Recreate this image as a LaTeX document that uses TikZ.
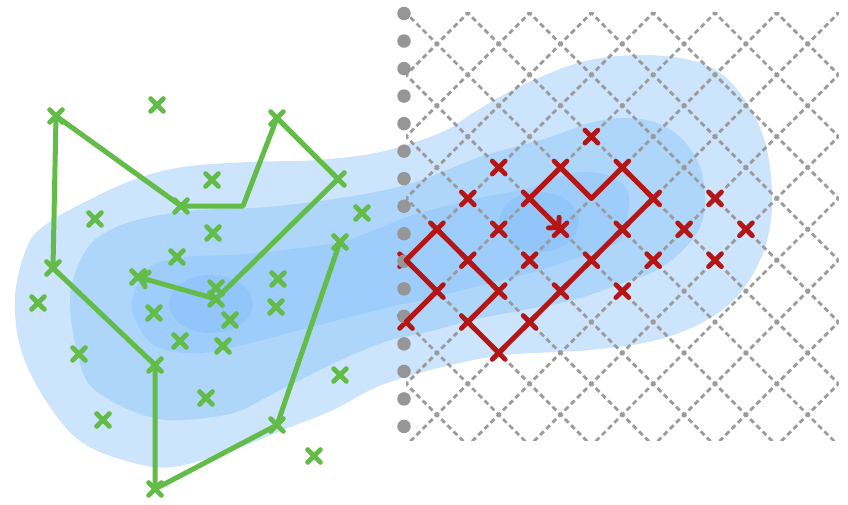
\documentclass[tikz,border=0pt]{standalone}
\usetikzlibrary{arrows.meta,shapes.misc}
\definecolor{bA}{RGB}{204,228,252}
\definecolor{bB}{RGB}{174,214,251}
\definecolor{bC}{RGB}{158,205,251}
\definecolor{bD}{RGB}{146,198,250}
\definecolor{gridc}{RGB}{155,155,155}
\definecolor{dotc}{RGB}{150,150,150}
\definecolor{redc}{RGB}{180,22,22}
\definecolor{greenc}{RGB}{99,187,72}
\tikzset{
  gridline/.style={gridc,line width=2.8pt,dash pattern=on 5.2pt off 3.54pt,dash phase=2.6pt},
  dotnode/.style={circle,fill=dotc,inner sep=0pt,minimum size=13.5pt},
  xnode/.style={cross out,draw,inner sep=0pt,minimum size=8pt,line width=4.8pt,line cap=round},
  rx/.style={xnode,draw=redc},
  gx/.style={xnode,draw=greenc},
  redpath/.style={redc,line width=5pt,line join=round,line cap=round},
  greenpath/.style={greenc,line width=5pt,line join=round,line cap=round},
  tip/.style={-{Straight Barb[length=7pt,width=15pt,round]}}
}
\begin{document}
\begin{tikzpicture}[x=1pt,y=-1pt]
\useasboundingbox (0,0) rectangle (848,505);
% density blobs
\fill[bA] plot[smooth cycle,tension=0.6] coordinates {(15,297) (27,247) (45,225) (83,203) (133,180) (183,167) (250,162) (317,160) (380,152) (440,133) (473,113) (507,93) (550,73) (590,60) (640,55) (690,60) (723,75) (750,108) (767,150) (772,207) (763,253) (740,293) (707,320) (657,340) (590,350) (490,357) (390,382) (333,410) (283,430) (233,450) (173,467) (130,462) (83,443) (50,407) (22,353)};
\fill[bB] plot[smooth cycle,tension=0.6] coordinates {(70,300) (85,252) (110,230) (150,217) (200,210) (267,207) (347,197) (413,183) (480,157) (547,138) (590,123) (623,118) (657,123) (683,140) (700,167) (705,200) (700,227) (683,250) (657,270) (623,283) (573,300) (523,310) (473,320) (423,333) (390,340) (345,358) (300,380) (267,397) (233,413) (183,420) (150,417) (110,400) (83,373)};
\fill[bC] plot[smooth cycle,tension=0.6] coordinates {(132,300) (150,267) (187,257) (233,255) (283,250) (347,240) (413,215) (480,198) (530,188) (573,173) (607,175) (627,190) (628,213) (620,240) (590,253) (540,270) (490,283) (423,300) (390,307) (300,330) (250,343) (200,353) (157,347) (138,325)};
\fill[bD] (211,304) ellipse [x radius=42pt,y radius=29pt];
\fill[bD] (539,222) ellipse [x radius=40pt,y radius=30pt];
% lattice
\begin{scope}[shift={(406pt,-13pt)},x=30.9pt,y=-30.9pt]
  \begin{scope}
    \clip (0,0) rectangle (14,13.82);
    \foreach \m in {-8,...,8} \draw[gridline] ({2*\m-2},-2) -- ({2*\m+16},16);
    \foreach \m in {-1,...,15} \draw[gridline] ({2*\m+2},-2) -- ({2*\m-16},16);
  \end{scope}
  % red points
  \foreach \i/\j in {0/10,1/9,0/8,1/7,2/8,3/9,2/10,3/11,4/10,5/9,6/8,7/7,8/6,7/5,5/5,4/6,5/7,6/4,3/5,2/6,10/6,3/7,9/7,11/7,4/8,8/8,10/8,7/9}
    \node[rx] (r\i-\j) at (\i,\j) {};
  \coordinate (r6-6) at (6,6);
\end{scope}
% grey dots
\foreach \k in {0,...,15} \node[dotnode] (d\k) at (404,{13.5+27.53*\k}) {};
% red path
\draw[redpath,tip] (r0-10.center) -- (r1-9.center) -- (r0-8.center) -- (r1-7.center) -- (r2-8.center) -- (r3-9.center) -- (r2-10.center) -- (r3-11.center) -- (r4-10.center) -- (r5-9.center) -- (r6-8.center) -- (r7-7.center) -- (r8-6.center) -- (r7-5.center) -- (r6-6) -- (r5-5.center) -- (r4-6.center) -- (r5-7.center);
% green points
\node[gx] (g1) at (56,116) {};
\node[gx] (g2) at (181,206) {};
\coordinate (g3) at (243,206);
\node[gx] (g4) at (277,118) {};
\node[gx] (g5) at (338,179) {};
\node[gx] (g6) at (216,299) {};
\node[gx] (g7) at (138,277) {};
\node[gx] (g8) at (53,268) {};
\node[gx] (g9) at (155,365) {};
\node[gx] (g10) at (155,489) {};
\node[gx] (g11) at (277,425) {};
\node[gx] (g12) at (340,242) {};
\foreach \x/\y [count=\n] in {157/105,212/180,95/219,362/213,213/233,177/257,278/279,216/288,38/303,154/313,230/320,276/307,180/341,223/346,79/354,340/375,206/398,103/420,314/456}
  \node[gx] (h\n) at (\x,\y) {};
\draw[greenpath,tip] (g12.center) -- (g11.center) -- (g10.center) -- (g9.center) -- (g8.center) -- (g1.center) -- (g2.center) -- (g3) -- (g4.center) -- (g5.center) -- (g6.center) -- (g7.center);
\end{tikzpicture}
\end{document}
